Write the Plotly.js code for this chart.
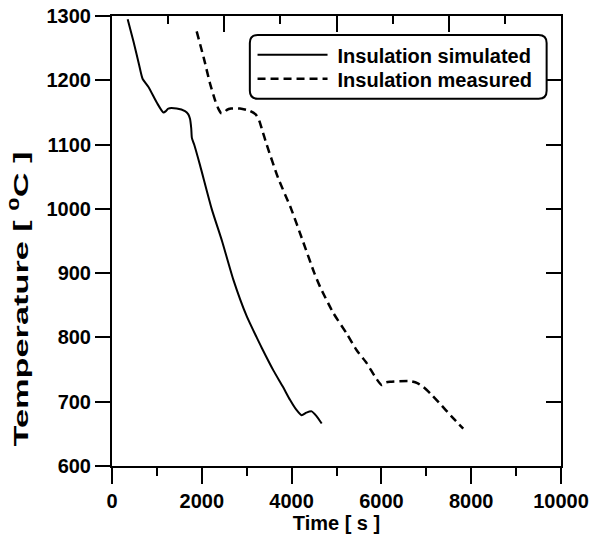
<!DOCTYPE html>
<html><head><meta charset="utf-8">
<script src="https://cdn.plot.ly/plotly-3.0.1.min.js"></script>
<style>html,body{margin:0;padding:0;background:#fff}</style>
</head><body><div id="chart" style="width:591px;height:536px"></div>
<script>
const simTime = [349,480,600,683,809,1000,1143,1200,1254,1440,1626,1700,1737,1765,1780,1830,1960,2220,2450,2702,3000,3222,3334,3600,3800,3964,4100,4224,4330,4447,4550,4670];
const simTemp = [1295,1260,1225,1202,1190,1165,1150,1152,1156,1156,1152,1147,1140,1125,1110,1100,1068,1000,950,890,833,800,784,748,724,703,688,679,683,685,678,666];
const measTime = [1886,2050,2183,2300,2368,2430,2490,2560,2650,2850,3050,3200,3280,3334,3445,3700,3990,4250,4507,4632,4929,5227,5450,5672,5857,6006,6100,6191,6636,6800,6933,7100,7304,7550,7823];
const measTemp = [1276,1233,1195,1168,1156,1149,1149,1154,1156,1156,1153,1147,1137,1125,1100,1048,1000,950,900,879,838,806,780,760,739,726,730,731,732,729,723,712,697,678,658];
const seriesNames = ["Insulation simulated","Insulation measured"];
const xTitle = "Time [ s ]";
const yTitle = "Temperature [ <sup>0</sup>C ]";

const FONT = {family:"Liberation Sans, Arial, sans-serif", size:20, color:"#000", weight:"bold"};

const traces = [
  {x:simTime, y:simTemp, name:seriesNames[0], mode:"lines",
   line:{color:"#000", width:2, shape:"spline", smoothing:0.6}},
  {x:measTime, y:measTemp, name:seriesNames[1], mode:"lines",
   line:{color:"#000", width:2.5, dash:"8px,5px", shape:"spline", smoothing:0.6}},
  {x:[null], y:[null], xaxis:"x2", yaxis:"y", showlegend:false, hoverinfo:"skip", mode:"lines"},
  {x:[null], y:[null], xaxis:"x", yaxis:"y2", showlegend:false, hoverinfo:"skip", mode:"lines"}
];

const x0=0.307, x1=0.968, y0=0.816, y1=0.958, rx=0.0178, ry=0.0178;
const boxPath = `M${x0+rx},${y1} L${x1-rx},${y1} Q${x1},${y1} ${x1},${y1-ry} L${x1},${y0+ry} Q${x1},${y0} ${x1-rx},${y0} L${x0+rx},${y0} Q${x0},${y0} ${x0},${y0+ry} L${x0},${y1-ry} Q${x0},${y1} ${x0+rx},${y1} Z`;

const layout = {
  width:591, height:536,
  margin:{l:112, r:30, t:16, b:70, pad:0},
  paper_bgcolor:"#fff", plot_bgcolor:"#fff",
  font:FONT,
  showlegend:true,
  legend:{x:0.313, y:0.957, xanchor:"left", yanchor:"top", bgcolor:"rgba(0,0,0,0)",
          borderwidth:0, font:FONT, itemwidth:75, tracegroupgap:0},
  xaxis:{range:[0,10000], dtick:2000, tick0:0, tickformat:"d", ticks:"outside", ticklen:16, tickwidth:2, tickcolor:"#000",
         showline:true, linewidth:2, linecolor:"#000", showgrid:false, zeroline:false,
         minor:{dtick:1000, ticks:"outside", ticklen:8, tickwidth:2, tickcolor:"#000", showgrid:false},
         title:{text:xTitle, font:FONT, standoff:2}, tickfont:FONT},
  xaxis2:{overlaying:"x", side:"top", range:[0,10000], dtick:2500, tick0:0, ticks:"inside", ticklen:16, tickwidth:2,
          tickcolor:"#000", showline:true, linewidth:2, linecolor:"#000", showgrid:false, zeroline:false,
          showticklabels:false,
          minor:{dtick:1250, ticks:"inside", ticklen:8, tickwidth:2, tickcolor:"#000", showgrid:false}},
  yaxis:{range:[600,1300], dtick:100, tick0:600, ticks:"outside", ticklen:15, tickwidth:2, tickcolor:"#000",
         showline:true, linewidth:2, linecolor:"#000", showgrid:false, zeroline:false,
         title:{text:yTitle, font:Object.assign({}, FONT, {size:21}), standoff:12}, tickfont:FONT},
  yaxis2:{overlaying:"y", side:"right", range:[600,1300], dtick:100, tick0:600, ticks:"inside", ticklen:15, tickwidth:2,
          tickcolor:"#000", showline:true, linewidth:2, linecolor:"#000", showgrid:false, zeroline:false,
          showticklabels:false},
  shapes:[{type:"path", xref:"paper", yref:"paper", path:boxPath, line:{color:"#000", width:2}}]
};

Plotly.newPlot("chart", traces, layout, {staticPlot:true, displayModeBar:false}).then(function(){
  document.querySelectorAll(".legend .legendlines path").forEach(function(p){
    p.setAttribute("d","M5,0h70");
  });
  var items = document.querySelectorAll(".legend .traces");
  if (items.length > 1) {
    var t = items[1].getAttribute("transform") || "";
    var m = t.match(/translate\(([-\d.]+)[ ,]+([-\d.]+)\)/);
    if (m) items[1].setAttribute("transform", "translate(" + m[1] + "," + (parseFloat(m[2]) - 5) + ")");
  }
  var yt = document.querySelector(".g-ytitle");
  var tx = yt ? yt.querySelector("text") : null;
  if (tx) {
    var r = tx.getBoundingClientRect();
    var svgR = document.querySelector("#chart svg").getBoundingClientRect();
    var cy = (r.top + r.bottom) / 2 - svgR.top;
    var s = 295 / r.height;
    yt.setAttribute("transform", "translate(0," + 299 + ") scale(1," + s + ") translate(0," + (-cy) + ")");
  }
});
</script>
</body></html>
